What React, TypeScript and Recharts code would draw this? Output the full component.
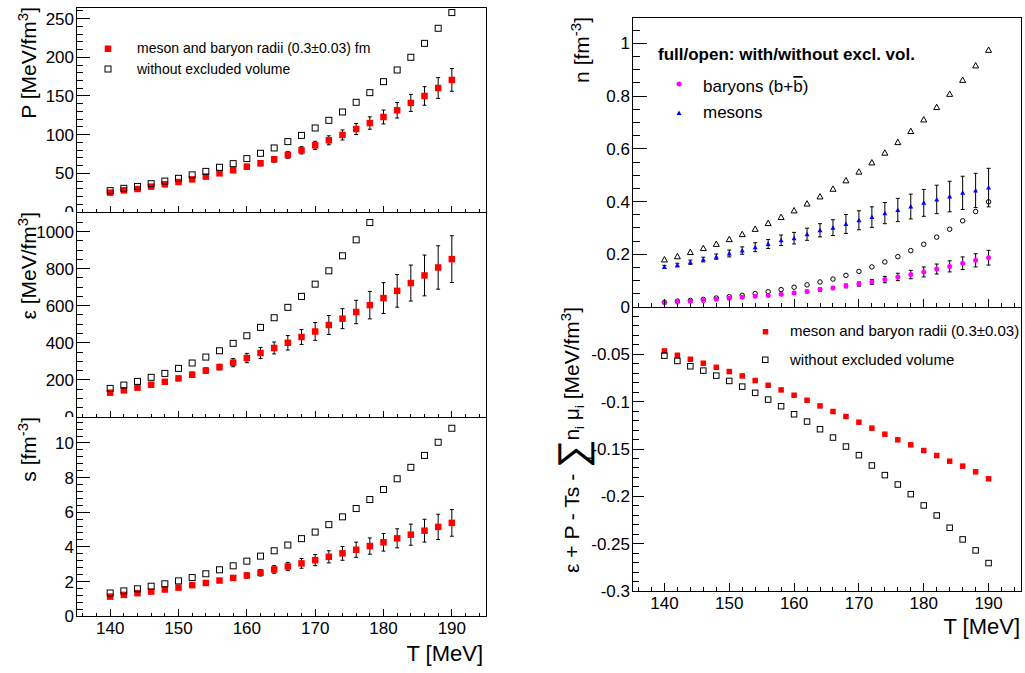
import { ScatterChart, Scatter, XAxis, YAxis, ErrorBar, ReferenceArea } from 'recharts'

const FONT = '"Liberation Sans", Arial, Helvetica, sans-serif'

// temperature grid [MeV]
const temperature = [140, 142, 144, 146, 148, 150, 152, 154, 156, 158, 160, 162, 164, 166, 168, 170, 172, 174, 176, 178, 180, 182, 184, 186, 188, 190]

// pressure [MeV/fm^3]
const pressureExcl = [25.0, 28.0, 29.7, 32.8, 35.8, 38.8, 42.2, 45.7, 50.0, 53.9, 58.6, 63.0, 68.1, 73.7, 79.7, 86.2, 92.7, 99.6, 107.3, 115.0, 122.8, 131.5, 141.0, 150.0, 160.3, 170.7]
const pressureExclErr = [0.6, 0.8, 0.9, 1.0, 1.2, 1.5, 1.7, 2.0, 2.2, 2.5, 3.0, 3.3, 3.7, 4.2, 4.7, 5.2, 5.8, 6.5, 7.2, 8.0, 9.0, 10.0, 11.0, 12.0, 13.5, 14.7]
const pressureFree = [27.6, 30.6, 33.0, 36.6, 40.0, 43.5, 48.0, 52.5, 57.8, 62.5, 69.0, 75.9, 82.8, 91.0, 99.0, 108.6, 118.5, 129.3, 141.8, 154.3, 168.5, 183.6, 200.0, 218.0, 237.5, 257.8]

// energy density [MeV/fm^3]
const energyExcl = [131, 144, 158, 174, 190, 208, 228, 250, 269, 293, 318, 345, 372, 400, 431, 461, 496, 530, 566, 603, 641, 680, 722, 763, 806, 851]
const energyExclErr = [5, 6, 7, 8, 10, 12, 14, 15, 15, 22, 25, 30, 32, 39, 40, 48, 51, 54, 63, 74, 83, 88, 97, 110, 117, 126]
const energyFree = [154, 172, 192, 214, 235, 262, 291, 323, 357, 397, 438, 483, 535, 591, 650, 716, 788, 869, 955, 1048]

// entropy density [fm^-3]
const entropyExcl = [1.12, 1.22, 1.32, 1.41, 1.53, 1.64, 1.78, 1.91, 2.05, 2.2, 2.34, 2.5, 2.69, 2.86, 3.04, 3.23, 3.42, 3.62, 3.83, 4.04, 4.26, 4.49, 4.7, 4.93, 5.15, 5.38]
const entropyExclErr = [0.04, 0.05, 0.05, 0.06, 0.07, 0.08, 0.08, 0.08, 0.1, 0.14, 0.15, 0.19, 0.22, 0.24, 0.28, 0.32, 0.35, 0.4, 0.44, 0.47, 0.51, 0.55, 0.61, 0.66, 0.73, 0.77]
const entropyFree = [1.33, 1.45, 1.57, 1.72, 1.86, 2.03, 2.22, 2.44, 2.67, 2.9, 3.17, 3.46, 3.77, 4.1, 4.47, 4.85, 5.28, 5.73, 6.21, 6.73, 7.31, 7.93, 8.59, 9.28, 10.04, 10.85]

// number densities [fm^-3]
const baryonExcl = [0.016, 0.019, 0.022, 0.025, 0.029, 0.033, 0.037, 0.041, 0.044, 0.048, 0.053, 0.059, 0.066, 0.072, 0.08, 0.087, 0.095, 0.104, 0.114, 0.123, 0.133, 0.144, 0.154, 0.166, 0.177, 0.187]
const baryonExclErr = [0.001, 0.001, 0.002, 0.002, 0.002, 0.003, 0.003, 0.003, 0.004, 0.004, 0.005, 0.005, 0.006, 0.006, 0.007, 0.008, 0.009, 0.012, 0.014, 0.016, 0.019, 0.019, 0.021, 0.024, 0.025, 0.028]
const baryonFree = [0.018, 0.022, 0.025, 0.029, 0.034, 0.039, 0.044, 0.051, 0.058, 0.066, 0.075, 0.084, 0.095, 0.106, 0.12, 0.135, 0.152, 0.171, 0.191, 0.214, 0.238, 0.265, 0.295, 0.327, 0.362, 0.399]
const mesonExcl = [0.152, 0.159, 0.17, 0.18, 0.191, 0.203, 0.214, 0.227, 0.239, 0.253, 0.261, 0.276, 0.291, 0.301, 0.315, 0.329, 0.341, 0.356, 0.368, 0.381, 0.395, 0.408, 0.419, 0.433, 0.442, 0.453]
const mesonExclErr = [0.006, 0.007, 0.008, 0.009, 0.01, 0.013, 0.014, 0.017, 0.017, 0.02, 0.022, 0.023, 0.025, 0.03, 0.036, 0.036, 0.039, 0.04, 0.044, 0.047, 0.051, 0.054, 0.058, 0.063, 0.065, 0.073]
const mesonFree = [0.18, 0.192, 0.208, 0.223, 0.239, 0.257, 0.276, 0.296, 0.318, 0.341, 0.366, 0.392, 0.419, 0.448, 0.48, 0.513, 0.548, 0.585, 0.625, 0.667, 0.711, 0.758, 0.808, 0.861, 0.916, 0.975]

// eps + P - Ts - sum n_i mu_i [MeV/fm^3]
const diffExcl = [-0.0464, -0.051, -0.0552, -0.0594, -0.0637, -0.0682, -0.0728, -0.0777, -0.0827, -0.0876, -0.0932, -0.0985, -0.1045, -0.1104, -0.1157, -0.1217, -0.128, -0.1344, -0.1403, -0.1456, -0.1516, -0.1569, -0.1629, -0.1681, -0.1741, -0.1815]
const diffFree = [-0.0514, -0.057, -0.0626, -0.0672, -0.0725, -0.0781, -0.0841, -0.0907, -0.0978, -0.1048, -0.1133, -0.121, -0.1291, -0.1379, -0.1474, -0.1565, -0.1674, -0.1776, -0.1875, -0.1977, -0.2096, -0.2202, -0.2332, -0.2455, -0.2571, -0.2705]

// axis tick labels
const xMajor = [140, 150, 160, 170, 180, 190]
const pressureMajor = [0, 50, 100, 150, 200, 250]
const energyMajor = [0, 200, 400, 600, 800, 1000]
const entropyMajor = [0, 2, 4, 6, 8, 10]
const densityMajor = [0.2, 0.4, 0.6, 0.8, 1] // its 0 is drawn by the panel below
const diffMajor = [-0.3, -0.25, -0.2, -0.15, -0.1, -0.05, 0]

const X_DOMAIN: [number, number] = [135, 195]

function ticksBetween(start: number, stop: number, step: number) {
    const out: number[] = []
    const n = Math.round((stop - start) / step)
    for (let i = 0; i <= n; i++) out.push(Math.round((start + i * step) * 1e6) / 1e6)
    return out
}

function toPoints(values: number[], errors?: number[]) {
    return values.map((y, i) => ({ x: temperature[i], y, err: errors ? errors[i] : 0 }))
}

const isMajor = (majors: number[], v: number) => majors.some((m) => Math.abs(m - v) < 1e-9)
const fmt = (v: number) => String(Number(v.toFixed(3)))

// marker shapes
const filledSquare = (size: number, color: string) => (p: any) =>
    p.cx == null ? <g /> : <rect x={p.cx - size / 2} y={p.cy - size / 2} width={size} height={size} fill={color} />
const openSquare = (size: number) => (p: any) =>
    p.cx == null ? <g /> : <rect x={p.cx - size / 2 + 0.5} y={p.cy - size / 2 + 0.5} width={size - 1} height={size - 1} fill="none" stroke="#000" strokeWidth={1} />
const filledCircle = (d: number, color: string) => (p: any) =>
    p.cx == null ? <g /> : <circle cx={p.cx} cy={p.cy} r={d / 2} fill={color} />
const openCircle = (d: number) => (p: any) =>
    p.cx == null ? <g /> : <circle cx={p.cx} cy={p.cy} r={d / 2 - 0.5} fill="none" stroke="#000" strokeWidth={1} />
const triPoints = (cx: number, cy: number, w: number) =>
    `${cx - w / 2},${cy + w * 0.4} ${cx + w / 2},${cy + w * 0.4} ${cx},${cy - w * 0.5}`
const filledTriangle = (w: number, color: string) => (p: any) =>
    p.cx == null ? <g /> : <polygon points={triPoints(p.cx, p.cy, w)} fill={color} />
const openTriangle = (w: number) => (p: any) =>
    p.cx == null ? <g /> : <polygon points={triPoints(p.cx, p.cy, w)} fill="none" stroke="#000" strokeWidth={1} />

interface SeriesSpec {
    name: string
    points: { x: number; y: number; err: number }[]
    shape: (p: any) => any
    errors?: boolean
}

interface PanelProps {
    pad: { left: number; top: number; width: number; height: number }
    plot: { left: number; top: number; right: number; bottom: number }
    yDomain: [number, number]
    yMajor: number[]
    yStep: number
    yTickLen: [number, number]
    xTickLen: [number, number]
    xLabels: boolean
    series: SeriesSpec[]
}

function Panel({ pad, plot, yDomain, yMajor, yStep, yTickLen, xTickLen, xLabels, series }: PanelProps) {
    const chartH = pad.height + 40
    const xAxisH = 30
    const margin = {
        top: plot.top - pad.top,
        right: pad.left + pad.width - plot.right,
        left: 0,
        bottom: chartH - (plot.bottom - pad.top) - xAxisH,
    }
    const xTicks = ticksBetween(136, 194, 2)
    const yTicks = ticksBetween(yDomain[0], yDomain[1], yStep).filter((v) => v <= yDomain[1] + 1e-9)

    const renderXTick = (props: any) => {
        const { x, y, payload } = props
        const major = isMajor(xMajor, payload.value)
        return (
            <g>
                <line x1={x} x2={x} y1={y} y2={y - (major ? xTickLen[0] : xTickLen[1])} stroke="#000" shapeRendering="crispEdges" />
                {xLabels && major && (
                    <text x={x} y={y + 17.5} textAnchor="middle" fontSize={17} fontFamily={FONT} fill="#000">
                        {payload.value}
                    </text>
                )}
            </g>
        )
    }

    const renderYTick = (props: any) => {
        const { x, y, payload } = props
        const major = isMajor(yMajor, payload.value) || Math.abs(payload.value) < 1e-9
        return (
            <g>
                <line x1={x} x2={x + (major ? yTickLen[0] : yTickLen[1])} y1={y} y2={y} stroke="#000" shapeRendering="crispEdges" />
                {isMajor(yMajor, payload.value) && (
                    <text x={x - 2} y={y} dy="0.36em" textAnchor="end" fontSize={17} fontFamily={FONT} fill="#000">
                        {fmt(payload.value)}
                    </text>
                )}
            </g>
        )
    }

    return (
        <div
            style={{
                position: 'absolute',
                left: pad.left,
                top: pad.top,
                width: pad.width,
                height: pad.height,
                overflow: 'hidden',
            }}
        >
            <ScatterChart width={pad.width} height={chartH} margin={margin}>
                <XAxis
                    type="number"
                    dataKey="x"
                    domain={X_DOMAIN}
                    ticks={xTicks}
                    interval={0}
                    tickSize={0}
                    tickMargin={0}
                    axisLine={false}
                    tickLine={false}
                    height={xAxisH}
                    tick={renderXTick}
                    allowDataOverflow
                />
                <YAxis
                    type="number"
                    dataKey="y"
                    domain={yDomain}
                    ticks={yTicks}
                    interval={0}
                    tickSize={0}
                    tickMargin={0}
                    axisLine={false}
                    tickLine={false}
                    width={plot.left - pad.left}
                    tick={renderYTick}
                    allowDataOverflow
                />
                <ReferenceArea
                    x1={X_DOMAIN[0]}
                    x2={X_DOMAIN[1]}
                    y1={yDomain[0]}
                    y2={yDomain[1]}
                    fill="none"
                    stroke="#000"
                    strokeWidth={1}
                    ifOverflow="visible"
                />
                {series.map((s) => (
                    <Scatter key={s.name} name={s.name} data={s.points} shape={s.shape} isAnimationActive={false}>
                        {s.errors && (
                            <ErrorBar dataKey="err" direction="y" width={2} stroke="#000" strokeWidth={1} isAnimationActive={false} />
                        )}
                    </Scatter>
                ))}
            </ScatterChart>
        </div>
    )
}

const RED = '#ff0000'
const MAGENTA = '#ff00ff'
const BLUE = '#0000ff'

export default function App() {
    const leftPlot = { left: 76, right: 486 }
    const rightPlot = { left: 632, right: 1021 }

    return (
        <div
            style={{
                position: 'absolute',
                left: 0,
                top: 0,
                width: 1025,
                height: 673,
                background: '#fff',
                fontFamily: FONT,
                overflow: 'hidden',
            }}
        >
            <style>{'.recharts-reference-area-rect { shape-rendering: crispEdges; }'}</style>

            <Panel
                pad={{ left: 0, top: 0, width: 500, height: 212 }}
                plot={{ ...leftPlot, top: 7, bottom: 212 }}
                yDomain={[0, 265]}
                yMajor={pressureMajor}
                yStep={10}
                yTickLen={[14, 7]}
                xTickLen={[6, 3]}
                xLabels={false}
                series={[
                    { name: 'pExcl', points: toPoints(pressureExcl, pressureExclErr), shape: filledSquare(6.5, RED), errors: true },
                    { name: 'pFree', points: toPoints(pressureFree), shape: openSquare(7) },
                ]}
            />
            <Panel
                pad={{ left: 0, top: 212, width: 500, height: 205 }}
                plot={{ ...leftPlot, top: 212, bottom: 417 }}
                yDomain={[0, 1105]}
                yMajor={energyMajor}
                yStep={50}
                yTickLen={[14, 7]}
                xTickLen={[6, 3]}
                xLabels={false}
                series={[
                    { name: 'eExcl', points: toPoints(energyExcl, energyExclErr), shape: filledSquare(6.5, RED), errors: true },
                    { name: 'eFree', points: toPoints(energyFree), shape: openSquare(7) },
                ]}
            />
            <Panel
                pad={{ left: 0, top: 417, width: 500, height: 256 }}
                plot={{ ...leftPlot, top: 417, bottom: 616 }}
                yDomain={[0, 11.5]}
                yMajor={entropyMajor}
                yStep={0.4}
                yTickLen={[14, 7]}
                xTickLen={[7, 3.5]}
                xLabels={true}
                series={[
                    { name: 'sExcl', points: toPoints(entropyExcl, entropyExclErr), shape: filledSquare(6.5, RED), errors: true },
                    { name: 'sFree', points: toPoints(entropyFree), shape: openSquare(7) },
                ]}
            />
            <Panel
                pad={{ left: 520, top: 0, width: 505, height: 307 }}
                plot={{ ...rightPlot, top: 17, bottom: 307 }}
                yDomain={[0, 1.1]}
                yMajor={densityMajor}
                yStep={0.05}
                yTickLen={[15, 8]}
                xTickLen={[8, 4]}
                xLabels={false}
                series={[
                    { name: 'bFree', points: toPoints(baryonFree), shape: openCircle(5.5) },
                    { name: 'mFree', points: toPoints(mesonFree), shape: openTriangle(6) },
                    { name: 'bExcl', points: toPoints(baryonExcl, baryonExclErr), shape: filledCircle(5, MAGENTA), errors: true },
                    { name: 'mExcl', points: toPoints(mesonExcl, mesonExclErr), shape: filledTriangle(5, BLUE), errors: true },
                ]}
            />
            <Panel
                pad={{ left: 520, top: 295, width: 505, height: 378 }}
                plot={{ ...rightPlot, top: 307, bottom: 591 }}
                yDomain={[-0.3, 0]}
                yMajor={diffMajor}
                yStep={0.01}
                yTickLen={[12, 7]}
                xTickLen={[8, 4]}
                xLabels={true}
                series={[
                    { name: 'dExcl', points: toPoints(diffExcl), shape: filledSquare(5.5, RED) },
                    { name: 'dFree', points: toPoints(diffFree), shape: openSquare(6.5) },
                ]}
            />

            {/* titles and legends */}
            <svg
                width={1025}
                height={673}
                style={{ position: 'absolute', left: 0, top: 0, pointerEvents: 'none' }}
                fontFamily={FONT}
                fill="#000"
            >
                <text transform="translate(36,7) rotate(-90)" textAnchor="end" fontSize={21}>
                    {'P [MeV/fm'}
                    <tspan fontSize={15} dy={-8}>3</tspan>
                    <tspan dy={8}>]</tspan>
                </text>
                <text transform="translate(36,212) rotate(-90)" textAnchor="end" fontSize={21}>
                    {'ε [MeV/fm'}
                    <tspan fontSize={15} dy={-8}>3</tspan>
                    <tspan dy={8}>]</tspan>
                </text>
                <text transform="translate(36,417) rotate(-90)" textAnchor="end" fontSize={21}>
                    {'s [fm'}
                    <tspan fontSize={15} dy={-8}>-3</tspan>
                    <tspan dy={8}>]</tspan>
                </text>
                <text x={483} y={661} textAnchor="end" fontSize={22}>T [MeV]</text>

                <text transform="translate(589,17) rotate(-90)" textAnchor="end" fontSize={21}>
                    {'n [fm'}
                    <tspan fontSize={15} dy={-8}>-3</tspan>
                    <tspan dy={8}>]</tspan>
                </text>
                <text transform="translate(579,307) rotate(-90)" textAnchor="end" fontSize={21}>
                    {'ε + P - Ts - '}
                    <tspan fontSize={40} dy={7}>∑</tspan>
                    <tspan fontSize={13} dx={-20} dy={8}>i</tspan>
                    <tspan dx={16} dy={-15}>n</tspan>
                    <tspan fontSize={13} dy={5}>i</tspan>
                    <tspan dy={-5}>{' μ'}</tspan>
                    <tspan fontSize={13} dy={5}>i</tspan>
                    <tspan dy={-5}>{' [MeV/fm'}</tspan>
                    <tspan fontSize={15} dy={-8}>3</tspan>
                    <tspan dy={8}>]</tspan>
                </text>
                <text x={1020} y={634} textAnchor="end" fontSize={22}>T [MeV]</text>

                {/* left legend */}
                <rect x={104.75} y={45.5} width={6.5} height={6.5} fill={RED} />
                <rect x={105} y={66} width={6} height={6} fill="none" stroke="#000" strokeWidth={1} />
                <text x={137} y={53} fontSize={14}>meson and baryon radii (0.3±0.03) fm</text>
                <text x={137} y={74} fontSize={14}>without excluded volume</text>

                {/* upper right legend */}
                <text x={658} y={60} fontSize={17} fontWeight="bold">full/open: with/without excl. vol.</text>
                <circle cx={679} cy={84} r={2.5} fill={MAGENTA} />
                <text x={703} y={92} fontSize={17}>
                    {'baryons (b+'}
                    <tspan style={{ textDecoration: 'overline' }}>b</tspan>
                    {')'}
                </text>
                <polygon points="676.5,115 681.5,115 679,110.5" fill={BLUE} />
                <text x={703} y={118} fontSize={17}>mesons</text>

                {/* lower right legend */}
                <rect x={762.75} y={329} width={5.5} height={5.5} fill={RED} />
                <rect x={762.5} y={357} width={5.5} height={5.5} fill="none" stroke="#000" strokeWidth={1} />
                <text x={790} y={336} fontSize={15}>meson and baryon radii (0.3±0.03)</text>
                <text x={790} y={365} fontSize={15}>without excluded volume</text>
            </svg>
        </div>
    )
}
